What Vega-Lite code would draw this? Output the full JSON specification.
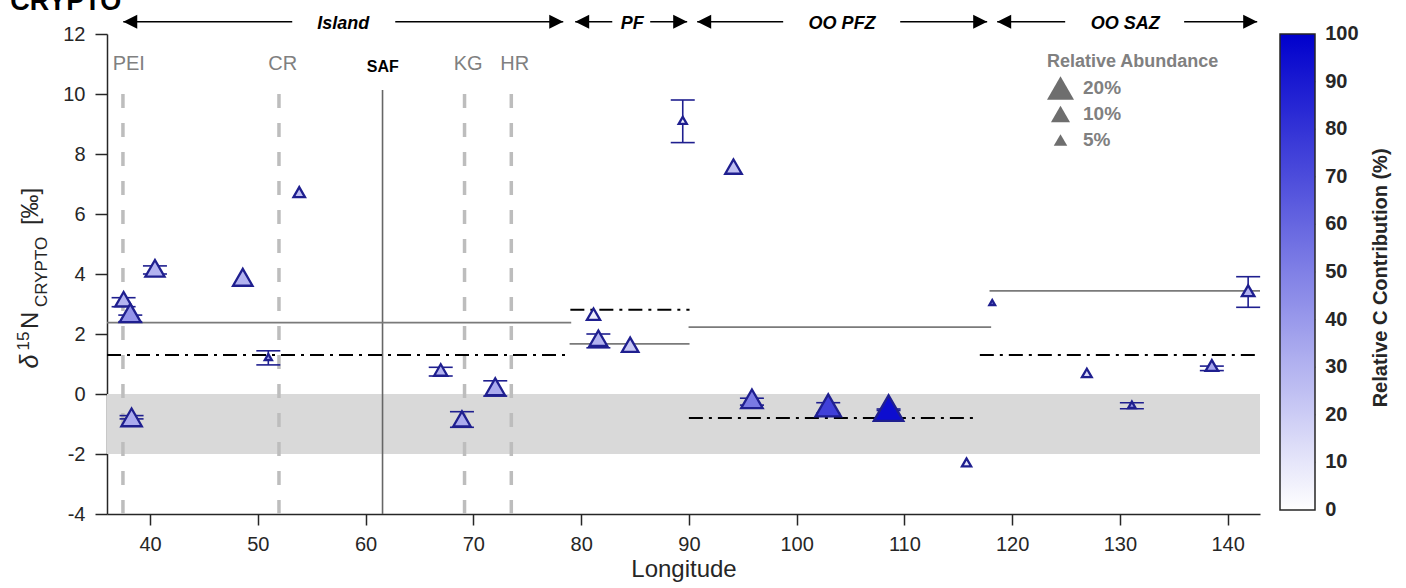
{
  "$schema": "https://vega.github.io/schema/vega-lite/v6.json",
  "width": 1153,
  "height": 480,
  "autosize": {"type": "none"},
  "padding": {"left": 107, "top": 34, "right": 146, "bottom": 74},
  "config": {
    "font": "Liberation Sans",
    "view": {"stroke": null},
    "axis": {
      "grid": false,
      "domainColor": "#262626",
      "domainWidth": 1.5,
      "tickColor": "#262626",
      "tickWidth": 1.5,
      "tickSize": 11,
      "labelFontSize": 20,
      "labelColor": "#262626",
      "titleFontSize": 24,
      "titleFontWeight": "normal",
      "titleColor": "#262626"
    }
  },
  "datasets": {
    "pts": [
      {"lon": 37.54, "d15N": 3.16, "lo": 2.91, "hi": 3.21, "ab": 7.5, "cc": 30},
      {"lon": 38.16, "d15N": 2.70, "lo": 2.41, "hi": 2.63, "ab": 12.2, "cc": 42},
      {"lon": 38.28, "d15N": -0.78, "lo": -0.83, "hi": -0.72, "ab": 11.5, "cc": 33},
      {"lon": 40.45, "d15N": 4.19, "lo": 4.00, "hi": 4.27, "ab": 10.1, "cc": 30},
      {"lon": 48.60, "d15N": 3.89, "lo": null, "hi": null, "ab": 10.4, "cc": 30},
      {"lon": 50.97, "d15N": 1.23, "lo": 0.97, "hi": 1.44, "ab": 1.4, "cc": 40},
      {"lon": 53.84, "d15N": 6.73, "lo": null, "hi": null, "ab": 3.6, "cc": 25},
      {"lon": 66.97, "d15N": 0.80, "lo": 0.60, "hi": 0.89, "ab": 4.8, "cc": 30},
      {"lon": 68.94, "d15N": -0.83, "lo": -1.11, "hi": -0.59, "ab": 8.4, "cc": 33},
      {"lon": 72.03, "d15N": 0.24, "lo": -0.07, "hi": 0.44, "ab": 10.4, "cc": 33},
      {"lon": 81.15, "d15N": 2.66, "lo": null, "hi": null, "ab": 4.8, "cc": 8},
      {"lon": 81.60, "d15N": 1.86, "lo": 1.54, "hi": 2.00, "ab": 8.4, "cc": 30},
      {"lon": 84.55, "d15N": 1.64, "lo": null, "hi": null, "ab": 7.5, "cc": 22},
      {"lon": 89.43, "d15N": 9.12, "lo": 8.38, "hi": 9.80, "ab": 1.8, "cc": 5},
      {"lon": 94.14, "d15N": 7.58, "lo": null, "hi": null, "ab": 7.5, "cc": 25},
      {"lon": 95.85, "d15N": -0.16, "lo": -0.37, "hi": -0.14, "ab": 12.7, "cc": 52},
      {"lon": 102.93, "d15N": -0.38, "lo": -0.64, "hi": -0.29, "ab": 17.8, "cc": 75},
      {"lon": 108.53, "d15N": -0.47, "lo": -0.55, "hi": -0.50, "ab": 23.9, "cc": 95},
      {"lon": 115.77, "d15N": -2.28, "lo": null, "hi": null, "ab": 2.3, "cc": 10},
      {"lon": 118.15, "d15N": 3.05, "lo": null, "hi": null, "ab": 0.9, "cc": 50},
      {"lon": 126.93, "d15N": 0.70, "lo": null, "hi": null, "ab": 2.6, "cc": 15},
      {"lon": 131.11, "d15N": -0.36, "lo": -0.49, "hi": -0.29, "ab": 1.5, "cc": 40},
      {"lon": 138.53, "d15N": 0.95, "lo": 0.78, "hi": 0.93, "ab": 4.3, "cc": 35},
      {"lon": 141.90, "d15N": 3.44, "lo": 2.89, "hi": 3.91, "ab": 4.3, "cc": 30}
    ],
    "band": [{"x1": 36, "x2": 143, "y1": -2, "y2": 0}],
    "sites": [
      {"name": "PEI", "lon": 37.48, "label_lon": 38.02, "top": 10, "bottom": -4, "ly": 10.8},
      {"name": "CR", "lon": 51.96, "label_lon": 52.31, "top": 10, "bottom": -4, "ly": 10.8},
      {"name": "KG", "lon": 69.18, "label_lon": 69.51, "top": 10, "bottom": -4, "ly": 10.8},
      {"name": "HR", "lon": 73.52, "label_lon": 73.84, "top": 10, "bottom": -4, "ly": 10.8}
    ],
    "saf": [{"name": "SAF", "lon": 61.57, "label_lon": 61.59, "top": 10.13, "bottom": -4, "ly": 10.74}],
    "means": [
      {"zone": "Island", "x1": 36, "x2": 79.08, "v": 2.38},
      {"zone": "PF", "x1": 78.93, "x2": 90.06, "v": 1.67},
      {"zone": "OO PFZ", "x1": 89.97, "x2": 118.05, "v": 2.23},
      {"zone": "OO SAZ", "x1": 117.9, "x2": 143, "v": 3.44}
    ],
    "dashdot": [
      {"zone": "Island", "x1": 36, "x2": 78.9, "v": 1.30},
      {"zone": "PF", "x1": 79.0, "x2": 90.06, "v": 2.81},
      {"zone": "OO PFZ", "x1": 90.0, "x2": 116.5, "v": -0.80},
      {"zone": "OO SAZ", "x1": 117.0, "x2": 142.6, "v": 1.30}
    ],
    "zones": [
      {"zone": "Island", "tipL": 37.51, "endL": 53.19, "mid": 57.93, "startR": 62.75, "tipR": 78.34, "hy": 12.41},
      {"zone": "PF", "tipL": 79.45, "endL": 82.89, "mid": 84.74, "startR": 86.41, "tipR": 89.84, "hy": 12.41},
      {"zone": "OO PFZ", "tipL": 90.77, "endL": 98.75, "mid": 104.22, "startR": 109.61, "tipR": 117.68, "hy": 12.41},
      {"zone": "OO SAZ", "tipL": 118.61, "endL": 124.92, "mid": 130.49, "startR": 135.96, "tipR": 142.74, "hy": 12.41}
    ],
    "cbar": [
      {"v": 0}, {"v": 10}, {"v": 20}, {"v": 30}, {"v": 40}, {"v": 50},
      {"v": 60}, {"v": 70}, {"v": 80}, {"v": 90}, {"v": 100}
    ]
  },
  "resolve": {"scale": {"y": "independent"}},
  "layer": [
    {
      "layer": [
        {
          "data": {"name": "band"},
          "mark": {"type": "rect", "color": "#d9d9d9"},
          "encoding": {
            "x": {"field": "x1", "type": "quantitative",
                  "scale": {"domain": [36, 143], "nice": false, "zero": false},
                  "axis": {"title": "Longitude", "values": [40, 50, 60, 70, 80, 90, 100, 110, 120, 130, 140], "labelPadding": 9, "titlePadding": 3}},
            "x2": {"field": "x2"},
            "y": {"field": "y1", "type": "quantitative",
                  "scale": {"domain": [-4, 12], "nice": false, "zero": false},
                  "axis": {"title": null, "orient": "left", "values": [-4, -2, 0, 2, 4, 6, 8, 10, 12], "labelPadding": 10, "tickSize": 12, "labelExpr": "'' + datum.value"}},
            "y2": {"field": "y2"}
          }
        },
        {
          "data": {"name": "sites"},
          "mark": {"type": "rule", "color": "#bdbdbd", "strokeWidth": 3.5, "strokeDash": [14, 15]},
          "encoding": {
            "x": {"field": "lon", "type": "quantitative"},
            "y": {"field": "top", "type": "quantitative"},
            "y2": {"field": "bottom"}
          }
        },
        {
          "data": {"name": "saf"},
          "mark": {"type": "rule", "color": "#666666", "strokeWidth": 1.6},
          "encoding": {
            "x": {"field": "lon", "type": "quantitative"},
            "y": {"field": "top", "type": "quantitative"},
            "y2": {"field": "bottom"}
          }
        },
        {
          "data": {"name": "means"},
          "mark": {"type": "rule", "color": "#7a7a7a", "strokeWidth": 1.8},
          "encoding": {
            "x": {"field": "x1", "type": "quantitative"},
            "x2": {"field": "x2"},
            "y": {"field": "v", "type": "quantitative"}
          }
        },
        {
          "data": {"name": "dashdot"},
          "mark": {"type": "rule", "color": "#000000", "strokeWidth": 2, "strokeDash": [14, 6, 3, 6]},
          "encoding": {
            "x": {"field": "x1", "type": "quantitative"},
            "x2": {"field": "x2"},
            "y": {"field": "v", "type": "quantitative"}
          }
        },
        {
          "data": {"name": "pts"},
          "transform": [{"filter": "datum.lo != null"}],
          "mark": {"type": "rule", "color": "#1f1f8f", "strokeWidth": 1.6},
          "encoding": {
            "x": {"field": "lon", "type": "quantitative"},
            "y": {"field": "lo", "type": "quantitative"},
            "y2": {"field": "hi"}
          }
        },
        {
          "data": {"name": "pts"},
          "transform": [{"filter": "datum.lo != null"}],
          "mark": {"type": "tick", "orient": "horizontal", "color": "#1f1f8f", "thickness": 1.6, "size": 24, "opacity": 1},
          "encoding": {
            "x": {"field": "lon", "type": "quantitative"},
            "y": {"field": "lo", "type": "quantitative"}
          }
        },
        {
          "data": {"name": "pts"},
          "transform": [{"filter": "datum.hi != null"}],
          "mark": {"type": "tick", "orient": "horizontal", "color": "#1f1f8f", "thickness": 1.6, "size": 24, "opacity": 1},
          "encoding": {
            "x": {"field": "lon", "type": "quantitative"},
            "y": {"field": "hi", "type": "quantitative"}
          }
        },
        {
          "data": {"name": "pts"},
          "mark": {"type": "point", "shape": "triangle-up", "filled": true, "stroke": "#1f1f8f", "strokeWidth": 2.3, "opacity": 1, "fillOpacity": 1, "strokeOpacity": 1},
          "encoding": {
            "x": {"field": "lon", "type": "quantitative"},
            "y": {"field": "d15N", "type": "quantitative"},
            "fill": {
              "field": "cc", "type": "quantitative",
              "scale": {"domain": [0, 100], "range": ["#ffffff", "#0000cc"], "interpolate": "rgb"},
              "legend": {
                "orient": "right", "offset": 20, "padding": 0, "title": null,
                "direction": "vertical",
                "gradientLength": 476, "gradientThickness": 35,
                "gradientStrokeColor": "#262626", "gradientStrokeWidth": 1.5,
                "values": [0, 100],
                "labelOpacity": 0, "labelFontSize": 1
              }
            },
            "size": {
              "field": "ab", "type": "quantitative",
              "scale": {"domain": [0, 20], "range": [0, 729], "zero": true},
              "legend": {
                "orient": "none", "legendX": 940, "legendY": 19, "padding": 0,
                "values": [20, 10, 5],
                "title": "Relative Abundance",
                "titleColor": "#808080", "titleFontSize": 18, "titleFontWeight": "bold", "titlePadding": 4,
                "labelExpr": "datum.label + '%'",
                "labelColor": "#808080", "labelFontSize": 19, "labelFontWeight": "bold", "labelOffset": 9,
                "symbolType": "triangle-up", "symbolFillColor": "#6e6e6e", "symbolStrokeWidth": 0,
                "clipHeight": 26, "rowPadding": 0
              }
            }
          }
        },
        {
          "data": {"name": "sites"},
          "mark": {"type": "text", "color": "#808080", "fontSize": 20, "align": "center", "baseline": "alphabetic"},
          "encoding": {
            "x": {"field": "label_lon", "type": "quantitative"},
            "y": {"field": "ly", "type": "quantitative"},
            "text": {"field": "name"}
          }
        },
        {
          "data": {"name": "saf"},
          "mark": {"type": "text", "color": "#000000", "fontSize": 16, "fontWeight": "bold", "align": "center", "baseline": "alphabetic"},
          "encoding": {
            "x": {"field": "label_lon", "type": "quantitative"},
            "y": {"field": "ly", "type": "quantitative"},
            "text": {"field": "name"}
          }
        },
        {
          "data": {"name": "zones"},
          "mark": {"type": "rule", "color": "#000000", "strokeWidth": 1.6},
          "encoding": {
            "x": {"field": "tipL", "type": "quantitative"},
            "x2": {"field": "endL"},
            "y": {"field": "hy", "type": "quantitative"}
          }
        },
        {
          "data": {"name": "zones"},
          "mark": {"type": "rule", "color": "#000000", "strokeWidth": 1.6},
          "encoding": {
            "x": {"field": "startR", "type": "quantitative"},
            "x2": {"field": "tipR"},
            "y": {"field": "hy", "type": "quantitative"}
          }
        },
        {
          "data": {"name": "zones"},
          "mark": {"type": "point", "shape": "M0,0L2,-1L2,1Z", "filled": true, "color": "#000000", "size": 196, "opacity": 1},
          "encoding": {
            "x": {"field": "tipL", "type": "quantitative"},
            "y": {"field": "hy", "type": "quantitative"}
          }
        },
        {
          "data": {"name": "zones"},
          "mark": {"type": "point", "shape": "M0,0L-2,-1L-2,1Z", "filled": true, "color": "#000000", "size": 196, "opacity": 1},
          "encoding": {
            "x": {"field": "tipR", "type": "quantitative"},
            "y": {"field": "hy", "type": "quantitative"}
          }
        },
        {
          "data": {"name": "zones"},
          "mark": {"type": "text", "color": "#000000", "fontSize": 18, "fontWeight": "bold", "fontStyle": "italic", "align": "center", "baseline": "middle", "dy": 2},
          "encoding": {
            "x": {"field": "mid", "type": "quantitative"},
            "y": {"field": "hy", "type": "quantitative"},
            "text": {"field": "zone"}
          }
        },
        {
          "data": {"values": [{"t": "CRYPTO", "x": 27.03, "y": 12.8}]},
          "mark": {"type": "text", "color": "#000000", "fontSize": 27, "fontWeight": "bold", "align": "left", "baseline": "alphabetic"},
          "encoding": {
            "x": {"field": "x", "type": "quantitative"},
            "y": {"field": "y", "type": "quantitative"},
            "text": {"field": "t"}
          }
        },
        {
          "data": {"values": [{"t": "δ", "x": 29.63, "y": 0.85}]},
          "mark": {"type": "text", "color": "#262626", "fontSize": 25, "fontStyle": "italic", "angle": 270, "align": "left", "baseline": "alphabetic"},
          "encoding": {
            "x": {"field": "x", "type": "quantitative"},
            "y": {"field": "y", "type": "quantitative"},
            "text": {"field": "t"}
          }
        },
        {
          "data": {"values": [{"t": "N", "x": 29.63, "y": 2.17}, {"t": "[‰]", "x": 29.63, "y": 5.63}]},
          "mark": {"type": "text", "color": "#262626", "fontSize": 24, "angle": 270, "align": "left", "baseline": "alphabetic"},
          "encoding": {
            "x": {"field": "x", "type": "quantitative"},
            "y": {"field": "y", "type": "quantitative"},
            "text": {"field": "t"}
          }
        },
        {
          "data": {"values": [{"t": "15", "x": 28.79, "y": 1.45}, {"t": "CRYPTO", "x": 30.46, "y": 2.9}]},
          "mark": {"type": "text", "color": "#262626", "fontSize": 17, "angle": 270, "align": "left", "baseline": "alphabetic"},
          "encoding": {
            "x": {"field": "x", "type": "quantitative"},
            "y": {"field": "y", "type": "quantitative"},
            "text": {"field": "t"}
          }
        },
        {
          "data": {"values": [{"t": "Relative C Contribution (%)", "x": 154.24, "y": 3.87}]},
          "mark": {"type": "text", "color": "#262626", "fontSize": 20, "fontWeight": "bold", "angle": 270, "align": "center", "baseline": "middle"},
          "encoding": {
            "x": {"field": "x", "type": "quantitative"},
            "y": {"field": "y", "type": "quantitative"},
            "text": {"field": "t"}
          }
        }
      ]
    },
    {
      "layer": [
        {
          "data": {"name": "cbar"},
          "mark": {"type": "text", "color": "#262626", "fontSize": 20, "fontWeight": "bold", "align": "left", "baseline": "middle"},
          "encoding": {
            "x": {"datum": 149.05, "type": "quantitative"},
            "y": {"field": "v", "type": "quantitative", "scale": {"domain": [-0.84, 100], "nice": false, "zero": false}, "axis": null},
            "text": {"field": "v"}
          }
        },
        {
          "data": {"name": "cbar"},
          "transform": [{"filter": "datum.v > 0 && datum.v < 100"}],
          "mark": {"type": "tick", "orient": "horizontal", "color": "#262626", "thickness": 1.5, "size": 5, "opacity": 1},
          "encoding": {
            "x": {"datum": 147.89, "type": "quantitative"},
            "y": {"field": "v", "type": "quantitative"}
          }
        }
      ]
    }
  ]
}
